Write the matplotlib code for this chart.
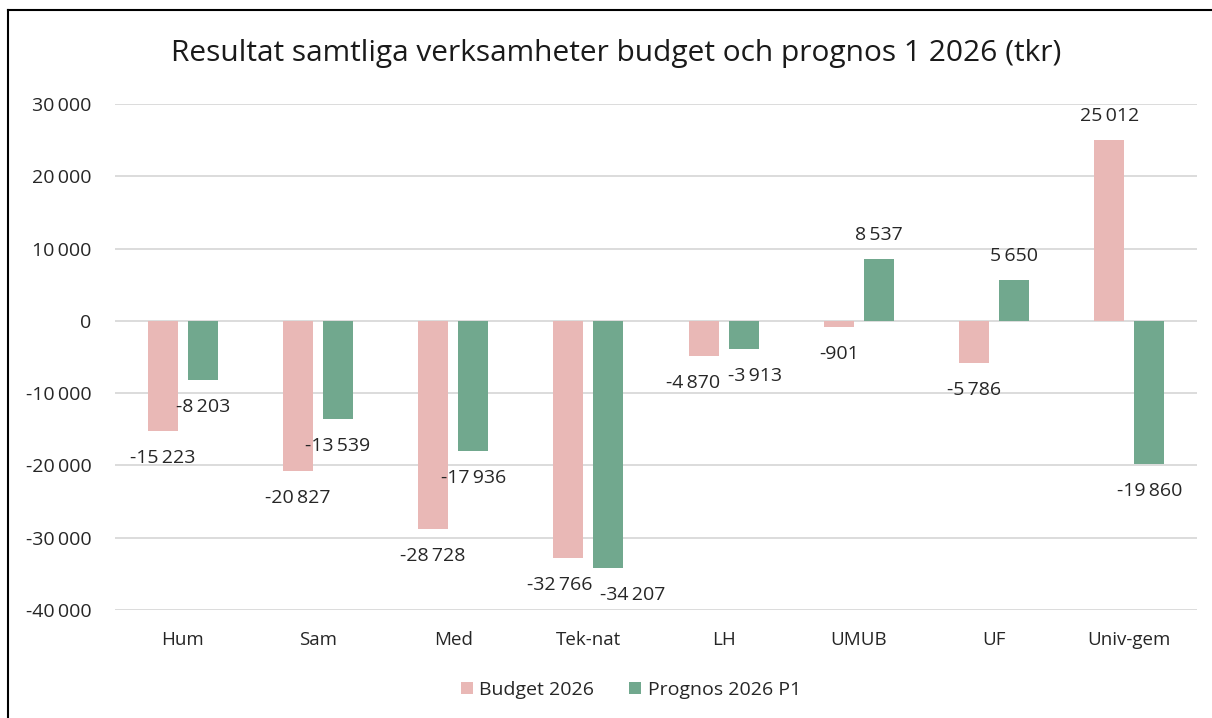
import matplotlib
matplotlib.use("Agg")
import matplotlib.pyplot as plt
from matplotlib.lines import Line2D
import numpy as np

categories = ["Hum", "Sam", "Med", "Tek-nat", "LH", "UMUB", "UF", "Univ-gem"]
budget = [-15223, -20827, -28728, -32766, -4870, -901, -5786, 25012]
prognos = [-8203, -13539, -17936, -34207, -3913, 8537, 5650, -19860]
series_names = ["Budget 2026", "Prognos 2026 P1"]
yticks = [30000, 20000, 10000, 0, -10000, -20000, -30000, -40000]
title = "Resultat samtliga verksamheter budget och prognos 1 2026 (tkr)"

plt.rcParams['font.family'] = ['Open Sans', 'DejaVu Sans']

def fmt(v):
    s = f"{abs(int(v)):,}".replace(",", "\u2009")
    return ("-" if v < 0 else "") + s

W, H = 1212, 718
fig = plt.figure(figsize=(W/100, H/100), dpi=100)
ax = fig.add_axes([115/W, 1-610/H, (1197-115)/W, (610-104)/H])

pink = "#E9B8B6"
green = "#71A88E"
x = np.arange(len(categories))
w = 0.222
off = 0.148
b1 = ax.bar(x - off, budget, w, color=pink, label=series_names[0], zorder=3)
b2 = ax.bar(x + off, prognos, w, color=green, label=series_names[1], zorder=3)

ax.set_xlim(-0.5, len(categories) - 0.5)
ax.set_ylim(-40000, 30000)
ax.set_yticks(yticks)
ax.set_yticklabels([fmt(v) for v in yticks], fontsize=14, color="#262626")
ax.set_xticks(x)
ax.set_xticklabels(categories, fontsize=13.5, color="#262626")
ax.tick_params(axis='both', length=0)
ax.tick_params(axis='y', pad=17)
ax.tick_params(axis='x', pad=15)
ax.grid(axis='y', color="#D9D9D9", linewidth=1.3, zorder=0)
for s in ax.spines.values():
    s.set_visible(False)

# horizontal label nudges (pixels) to avoid collisions, as in the reference
nudge = {(0, 3): -9, (1, 3): 24, (0, 4): -11, (1, 4): 11}

for si, (bars, vals) in enumerate(((b1, budget), (b2, prognos))):
    for ci, (rect, v) in enumerate(zip(bars, vals)):
        cx = rect.get_x() + rect.get_width()/2
        dx = nudge.get((si, ci), 0)
        ax.annotate(fmt(v), (cx, v), xytext=(dx, 24 if v >= 0 else -27),
                    textcoords="offset pixels",
                    ha="center", va="center", fontsize=14, color="#262626", zorder=4)

fig.text(0.5 + 10/W, 1-54/H, title, ha="center", va="center", fontsize=21.5, color="#1a1a1a")

leg = fig.legend(handles=[b1, b2], labels=series_names, loc="center",
                 bbox_to_anchor=(631/W, 1-690/H), ncol=2, frameon=False,
                 fontsize=14, handlelength=0.6, handleheight=0.6,
                 handletextpad=0.35, columnspacing=1.8)
for t in leg.get_texts():
    t.set_color("#262626")

fig.add_artist(Line2D([8/W, 1], [1-10/H, 1-10/H], color="black", linewidth=1.5))
fig.add_artist(Line2D([8/W, 8/W], [0, 1-10/H], color="black", linewidth=1.5))

fig.savefig("out.png", dpi=100, facecolor="white")
